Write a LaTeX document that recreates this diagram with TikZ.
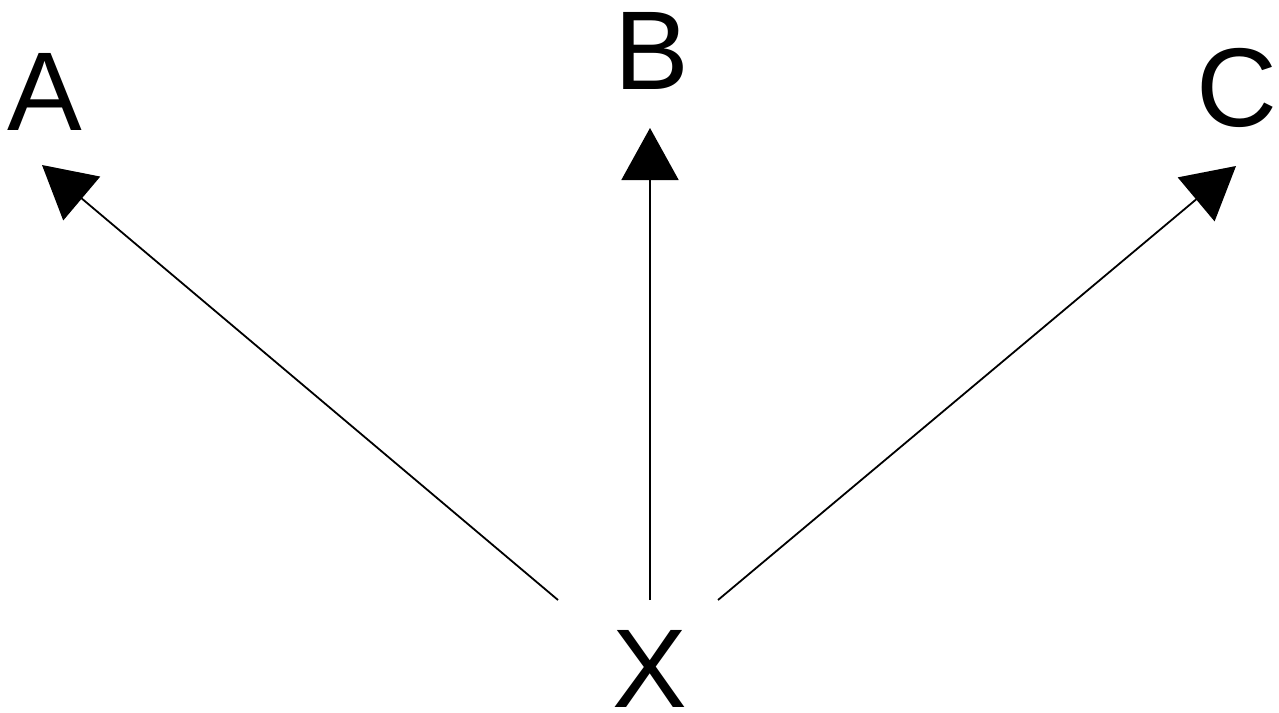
\documentclass[tikz,border=0pt]{standalone}
\usepackage{fontspec}
\setmainfont{Liberation Sans}
\usetikzlibrary{arrows.meta}
\begin{document}
\begin{tikzpicture}[x=1pt,y=-1pt,
  lbl/.style={anchor=base,inner sep=0pt,font=\fontsize{112}{112}\selectfont},
  conn/.style={line width=1.8pt,-{Triangle[length=52pt,width=57pt]}}]
\useasboundingbox (0,0) rectangle (1279,712);
\node[lbl] (A) at (45,130) {A};
\node[lbl] (B) at (652,89) {B};
\node[lbl] (C) at (1237,126) {C};
\node[lbl] (X) at (650,707) {X};
\coordinate (xa) at (558,600);
\coordinate (xb) at (650,600);
\coordinate (xc) at (718,600);
\coordinate (ta) at (42,165);
\coordinate (tb) at (650,128);
\coordinate (tc) at (1236,166);
\draw[conn] (xa) -- (ta);
\draw[conn] (xb) -- (tb);
\draw[conn] (xc) -- (tc);
\end{tikzpicture}
\end{document}
